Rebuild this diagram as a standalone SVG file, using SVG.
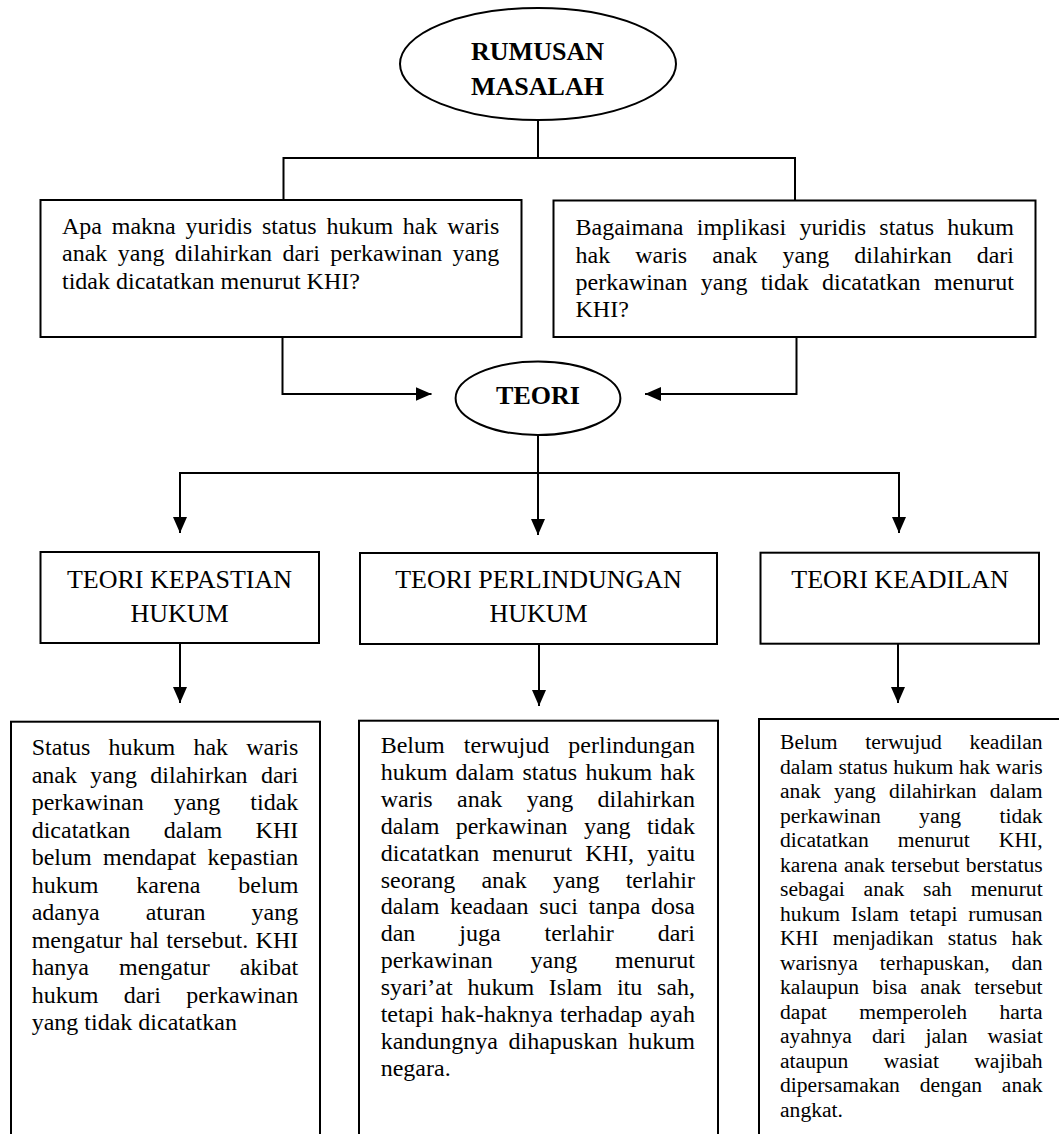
<svg xmlns="http://www.w3.org/2000/svg" width="1059" height="1134" viewBox="0 0 1059 1134">
<style>
text{font-family:"Liberation Serif","Times New Roman",serif;fill:#000}
.b{font-weight:bold;font-size:26px;text-anchor:middle}
.h{font-size:26px;text-anchor:middle}
.p{font-size:24px}
.s{font-size:21.6px}
.box{fill:#fff;stroke:#000;stroke-width:2}
.ln{fill:none;stroke:#000;stroke-width:2}
</style>
<defs>
<marker id="ah" markerUnits="userSpaceOnUse" markerWidth="16" markerHeight="14" refX="16" refY="7" orient="auto">
<path d="M0,0 L16,7 L0,14 z" fill="#000"/>
</marker>
</defs>
<rect width="1059" height="1134" fill="#fff"/>
<g id="connectors">
<path class="ln" d="M538,120 V158 M283.5,158 H795 M283.5,157 V200 M795,157 V200"/>
<path class="ln" d="M282.5,337 V394 H431.5" marker-end="url(#ah)"/>
<path class="ln" d="M796.5,337 V394 H645" marker-end="url(#ah)"/>
<path class="ln" d="M538,435 V535" marker-end="url(#ah)"/>
<path class="ln" d="M180,473 H899"/>
<path class="ln" d="M180,472 V533" marker-end="url(#ah)"/>
<path class="ln" d="M899,472 V533" marker-end="url(#ah)"/>
<path class="ln" d="M180,643 V703" marker-end="url(#ah)"/>
<path class="ln" d="M539,644 V706" marker-end="url(#ah)"/>
<path class="ln" d="M898,642 V703" marker-end="url(#ah)"/>
</g>
<g id="rumusan">
<ellipse class="box" cx="538" cy="64" rx="138" ry="56"/>
<text class="b" x="537.5" y="60">RUMUSAN</text>
<text class="b" x="537.5" y="95">MASALAH</text>
</g>
<g id="q1">
<rect class="box" x="40.5" y="200" width="481" height="137"/>
<text class="p" x="62" y="233.5" style="word-spacing:3.78px">Apa makna yuridis status hukum hak waris</text>
<text class="p" x="62" y="261" style="word-spacing:4.42px">anak yang dilahirkan dari perkawinan yang</text>
<text class="p" x="62" y="288.5">tidak dicatatkan menurut KHI?</text>
</g>
<g id="q2">
<rect class="box" x="553.5" y="200.5" width="482" height="136.5"/>
<text class="p" x="575.5" y="235" style="word-spacing:7.3px">Bagaimana implikasi yuridis status hukum</text>
<text class="p" x="575.5" y="262.5" style="word-spacing:19.06px">hak waris anak yang dilahirkan dari</text>
<text class="p" x="575.5" y="290" style="word-spacing:7.3px">perkawinan yang tidak dicatatkan menurut</text>
<text class="p" x="575.5" y="317">KHI?</text>
</g>
<g id="teori">
<ellipse class="box" cx="538" cy="398.3" rx="82.4" ry="36.7"/>
<text class="b" x="538" y="404">TEORI</text>
</g>
<g id="t-kepastian">
<rect class="box" x="40.5" y="552" width="278.5" height="91"/>
<text class="h" x="179.5" y="588">TEORI KEPASTIAN</text>
<text class="h" x="179.5" y="621.7">HUKUM</text>
</g>
<g id="t-perlindungan">
<rect class="box" x="360" y="553" width="357" height="91"/>
<text class="h" x="538.5" y="588">TEORI PERLINDUNGAN</text>
<text class="h" x="538.5" y="621.7">HUKUM</text>
</g>
<g id="t-keadilan">
<rect class="box" x="760.5" y="552.7" width="278.5" height="91"/>
<text class="h" x="900" y="588">TEORI KEADILAN</text>
</g>
<g id="d-kepastian">
<rect class="box" x="11" y="721.7" width="309" height="440"/>
<text class="p" x="31.7" y="755" style="word-spacing:12.2px">Status hukum hak waris</text>
<text class="p" x="31.7" y="782.5" style="word-spacing:7.33px">anak yang dilahirkan dari</text>
<text class="p" x="31.7" y="810" style="word-spacing:24px">perkawinan yang tidak</text>
<text class="p" x="31.7" y="837.5" style="word-spacing:27.34px">dicatatkan dalam KHI</text>
<text class="p" x="31.7" y="865" style="word-spacing:5.32px">belum mendapat kepastian</text>
<text class="p" x="31.7" y="892.5" style="word-spacing:32px">hukum karena belum</text>
<text class="p" x="31.7" y="920" style="word-spacing:40px">adanya aturan yang</text>
<text class="p" x="31.7" y="947.5" style="word-spacing:1.33px">mengatur hal tersebut. KHI</text>
<text class="p" x="31.7" y="975" style="word-spacing:24px">hanya mengatur akibat</text>
<text class="p" x="31.7" y="1002.5" style="word-spacing:19.3px">hukum dari perkawinan</text>
<text class="p" x="31.7" y="1030">yang tidak dicatatkan</text>
</g>
<g id="d-perlindungan">
<rect class="box" x="359" y="720.7" width="359" height="440"/>
<text class="p" x="380.7" y="753.3" style="word-spacing:13.16px">Belum terwujud perlindungan</text>
<text class="p" x="380.7" y="780.2" style="word-spacing:2.25px">hukum dalam status hukum hak</text>
<text class="p" x="380.7" y="807" style="word-spacing:18.33px">waris anak yang dilahirkan</text>
<text class="p" x="380.7" y="833.9" style="word-spacing:10.34px">dalam perkawinan yang tidak</text>
<text class="p" x="380.7" y="860.7" style="word-spacing:7px">dicatatkan menurut KHI, yaitu</text>
<text class="p" x="380.7" y="887.6" style="word-spacing:20.13px">seorang anak yang terlahir</text>
<text class="p" x="380.7" y="914.4" style="word-spacing:4.6px">dalam keadaan suci tanpa dosa</text>
<text class="p" x="380.7" y="941.3" style="word-spacing:37.9px">dan juga terlahir dari</text>
<text class="p" x="380.7" y="968.1" style="word-spacing:31.85px">perkawinan yang menurut</text>
<text class="p" x="380.7" y="995" style="word-spacing:8.75px">syari’at hukum Islam itu sah,</text>
<text class="p" x="380.7" y="1021.8" style="word-spacing:1.03px">tetapi hak-haknya terhadap ayah</text>
<text class="p" x="380.7" y="1048.7" style="word-spacing:4.5px">kandungnya dihapuskan hukum</text>
<text class="p" x="380.7" y="1075.5">negara.</text>
</g>
<g id="d-keadilan">
<rect class="box" x="759" y="719" width="330" height="440"/>
<text class="s" x="780" y="749.3" style="word-spacing:22.15px">Belum terwujud keadilan</text>
<text class="s" x="780" y="773.8" style="word-spacing:0.28px">dalam status hukum hak waris</text>
<text class="s" x="780" y="798.3" style="word-spacing:7.78px">anak yang dilahirkan dalam</text>
<text class="s" x="780" y="822.8" style="word-spacing:32.97px">perkawinan yang tidak</text>
<text class="s" x="780" y="847.3" style="word-spacing:23.67px">dicatatkan menurut KHI,</text>
<text class="s" x="780" y="871.8" style="word-spacing:1px">karena anak tersebut berstatus</text>
<text class="s" x="780" y="896.3" style="word-spacing:13.4px">sebagai anak sah menurut</text>
<text class="s" x="780" y="920.8" style="word-spacing:5.37px">hukum Islam tetapi rumusan</text>
<text class="s" x="780" y="945.3" style="word-spacing:8.97px">KHI menjadikan status hak</text>
<text class="s" x="780" y="969.8" style="word-spacing:16.5px">warisnya terhapuskan, dan</text>
<text class="s" x="780" y="994.3" style="word-spacing:7.78px">kalaupun bisa anak tersebut</text>
<text class="s" x="780" y="1018.8" style="word-spacing:27px">dapat memperoleh harta</text>
<text class="s" x="780" y="1043.3" style="word-spacing:14.6px">ayahnya dari jalan wasiat</text>
<text class="s" x="780" y="1067.8" style="word-spacing:29.96px">ataupun wasiat wajibah</text>
<text class="s" x="780" y="1092.3" style="word-spacing:14.4px">dipersamakan dengan anak</text>
<text class="s" x="780" y="1116.8">angkat.</text>
</g>
</svg>
